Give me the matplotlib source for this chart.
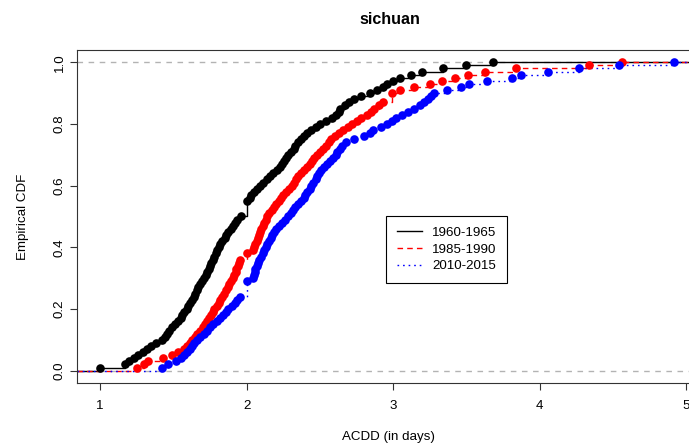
import numpy as np
import matplotlib
matplotlib.use("Agg")
import matplotlib.pyplot as plt
from matplotlib.lines import Line2D

plt.rcParams["font.family"] = ["Liberation Sans", "DejaVu Sans"]

title = "sichuan"
xlabel = "ACDD (in days)"
ylabel = "Empirical CDF"
labels = ["1960-1965", "1985-1990", "2010-2015"]
colors = ["black", "red", "blue"]
x_ticks = [1, 2, 3, 4, 5]
y_ticks = [0.0, 0.2, 0.4, 0.6, 0.8, 1.0]

# sorted ACDD samples (days)
acdd_1960 = [
    1.00, 1.17, 1.20, 1.23, 1.26, 1.29, 1.32, 1.35, 1.38, 1.42,
    1.44, 1.455, 1.47, 1.49, 1.51, 1.53, 1.55, 1.56, 1.575, 1.59,
    1.60, 1.61, 1.625, 1.64, 1.65, 1.66, 1.67, 1.68, 1.695, 1.71,
    1.72, 1.73, 1.74, 1.75, 1.76, 1.77, 1.78, 1.79, 1.80, 1.81,
    1.82, 1.835, 1.85, 1.86, 1.875, 1.89, 1.91, 1.92, 1.935, 1.96,
    2.00, 2.00, 2.00, 2.00, 2.00, 2.02, 2.03, 2.05, 2.07, 2.09,
    2.11, 2.14, 2.16, 2.18, 2.21, 2.23, 2.24, 2.255, 2.27, 2.285,
    2.30, 2.32, 2.33, 2.35, 2.37, 2.39, 2.41, 2.44, 2.47, 2.50,
    2.54, 2.58, 2.61, 2.63, 2.64, 2.67, 2.70, 2.73, 2.78, 2.84,
    2.89, 2.93, 2.96, 3.00, 3.05, 3.12, 3.20, 3.34, 3.50, 3.68,
]
acdd_1985 = [
    1.25, 1.30, 1.33, 1.43, 1.49, 1.53, 1.57, 1.59, 1.61, 1.63,
    1.645, 1.66, 1.68, 1.70, 1.715, 1.73, 1.745, 1.755, 1.77, 1.78,
    1.795, 1.81, 1.82, 1.83, 1.845, 1.86, 1.87, 1.88, 1.89, 1.905,
    1.915, 1.925, 1.93, 1.94, 1.95, 1.955, 2.00, 2.00, 2.045, 2.05,
    2.06, 2.07, 2.075, 2.085, 2.09, 2.10, 2.11, 2.12, 2.13, 2.14,
    2.155, 2.17, 2.185, 2.20, 2.22, 2.235, 2.25, 2.27, 2.29, 2.31,
    2.32, 2.335, 2.35, 2.37, 2.39, 2.41, 2.43, 2.445, 2.46, 2.48,
    2.50, 2.52, 2.54, 2.56, 2.575, 2.60, 2.63, 2.66, 2.69, 2.72,
    2.75, 2.78, 2.82, 2.85, 2.87, 2.90, 2.93, 2.99, 2.99, 2.99,
    3.05, 3.14, 3.25, 3.33, 3.42, 3.51, 3.63, 3.84, 4.34, 4.56,
]
acdd_2010 = [
    1.42, 1.46, 1.52, 1.55, 1.57, 1.59, 1.61, 1.625, 1.64, 1.66,
    1.68, 1.71, 1.73, 1.75, 1.77, 1.80, 1.82, 1.84, 1.86, 1.875,
    1.90, 1.92, 1.935, 1.955, 2.00, 2.00, 2.00, 2.00, 2.00, 2.04,
    2.05, 2.055, 2.06, 2.07, 2.075, 2.085, 2.095, 2.11, 2.12, 2.13,
    2.14, 2.15, 2.165, 2.175, 2.19, 2.20, 2.22, 2.24, 2.26, 2.28,
    2.30, 2.315, 2.33, 2.35, 2.37, 2.39, 2.40, 2.415, 2.43, 2.44,
    2.455, 2.47, 2.48, 2.495, 2.51, 2.53, 2.55, 2.57, 2.59, 2.61,
    2.62, 2.635, 2.65, 2.68, 2.73, 2.80, 2.84, 2.86, 2.92, 2.96,
    2.99, 3.02, 3.06, 3.10, 3.14, 3.18, 3.21, 3.24, 3.26, 3.28,
    3.37, 3.46, 3.52, 3.64, 3.81, 3.87, 4.06, 4.27, 4.54, 4.92,
]
series = [acdd_1960, acdd_1985, acdd_2010]
styles = ["-", (0, (4, 3)), (0, (1.2, 2.8))]

W, H = 689, 448
fig = plt.figure(figsize=(W / 100, H / 100), dpi=100)
ax = fig.add_axes([77 / W, 65 / H, 625 / W, 333 / H])

xlo, xhi = 0.842, 5.108
ax.set_xlim(xlo, xhi)
ax.set_ylim(-0.04, 1.04)

ax.axhline(0, color="#B3B3B3", lw=1, ls=(0, (4, 4)), zorder=1)
ax.axhline(1, color="#B3B3B3", lw=1, ls=(0, (4, 4)), zorder=1)

for vals, col, ls in zip(series, colors, styles):
    knots, counts = np.unique(vals, return_counts=True)
    F = np.cumsum(counts) / len(vals)
    xs = np.concatenate([[xlo - 1], knots, [xhi + 1]])
    ys = np.concatenate([[0], F, [1]])
    ax.step(xs, ys, where="post", color=col, lw=1, ls=ls, zorder=2)
    ax.plot(knots, F, "o", color=col, ms=6.2, mew=0, zorder=3)

fs = 9.6
ax.set_xticks(x_ticks)
ax.set_xticklabels([str(t) for t in x_ticks])
ax.set_yticks(y_ticks)
ax.set_yticklabels([f"{t:.1f}" for t in y_ticks])
ax.tick_params(axis="both", direction="out", length=5, width=0.8,
               color="#333333", labelsize=fs)
ax.tick_params(axis="x", pad=7.5)
ax.tick_params(axis="y", pad=3)
plt.setp(ax.get_yticklabels(), rotation=90, va="center")
for sp in ax.spines.values():
    sp.set_color("#333333")
    sp.set_linewidth(0.8)

ax.set_title(title, fontsize=11.5, fontweight="bold", pad=18.5)
fig.text(389 / W, 1 - 437 / H, xlabel, fontsize=fs, ha="center", va="center")
fig.text(23 / W, 1 - 217 / H, ylabel, fontsize=fs, ha="center", va="center",
         rotation=90)

handles = [Line2D([], [], color=c, lw=1, ls=s) for c, s in zip(colors, styles)]
leg = ax.legend(handles, labels, loc="upper left",
                bbox_to_anchor=(386 / W, 1 - 216 / H), bbox_transform=fig.transFigure,
                fancybox=False, edgecolor="black", framealpha=1, fontsize=fs,
                borderaxespad=0, borderpad=0.8, handlelength=1.9, handletextpad=0.75,
                labelspacing=0.32)
leg.get_frame().set_linewidth(0.8)

fig.savefig("out.png", dpi=100)
